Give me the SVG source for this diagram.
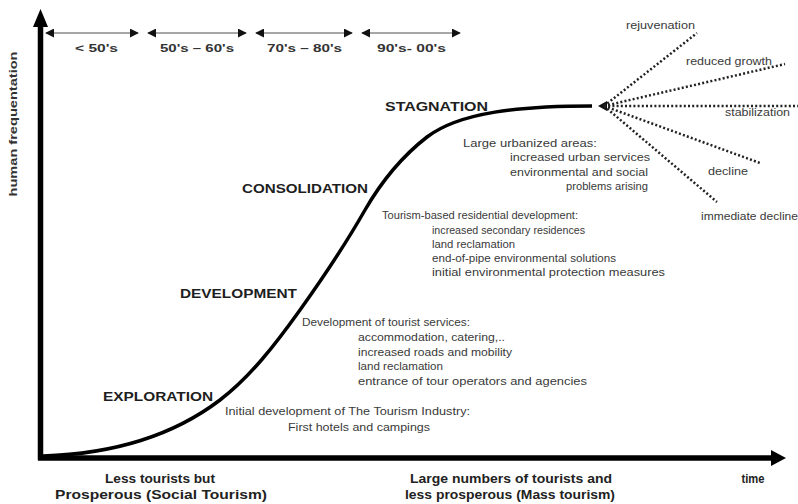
<svg xmlns="http://www.w3.org/2000/svg" width="798" height="504" viewBox="0 0 798 504">
<style>
text{font-family:"Liberation Sans",Arial,sans-serif;}
.phase{font-size:12.5px;font-weight:bold;fill:#1e1e1e;}
.small{font-size:10px;fill:#3a3a3a;}
.per{font-size:11px;font-weight:bold;fill:#333;}
.bot{font-size:12.5px;font-weight:bold;fill:#222;}
.dot{fill:none;stroke:#222;stroke-width:2.5;stroke-dasharray:2 2.2;}
.per-line{stroke:#8a8a8a;stroke-width:1.6;marker-start:url(#ah);marker-end:url(#ah);}
</style>
<defs>
<marker id="ah" viewBox="0 0 10 10" refX="9" refY="5" markerWidth="9" markerHeight="9" markerUnits="userSpaceOnUse" orient="auto-start-reverse">
<path d="M0,0 L10,5 L0,10 z" fill="#111"/>
</marker>
</defs>
<rect width="798" height="504" fill="#fff"/>

<g id="axes">
<line x1="40.5" y1="460" x2="40.5" y2="24" stroke="#000" stroke-width="5.5"/>
<polygon points="40.5,9 33,27 48,27" fill="#000"/>
<line x1="38" y1="458" x2="774" y2="458" stroke="#000" stroke-width="5.5"/>
<polygon points="786,458 771,450 771,466" fill="#000"/>
<text x="17" y="124" transform="rotate(-90 17 124)" text-anchor="middle" font-size="11" font-weight="bold" fill="#333" textLength="145" lengthAdjust="spacingAndGlyphs">human frequentation</text>
</g>

<g id="periods">
<line class="per-line" x1="46" y1="33" x2="138" y2="33"/>
<line class="per-line" x1="148" y1="33" x2="246" y2="33"/>
<line class="per-line" x1="256" y1="33" x2="352" y2="33"/>
<line class="per-line" x1="362" y1="33" x2="460" y2="33"/>
<text class="per" x="75" y="52" textLength="43" lengthAdjust="spacingAndGlyphs">&lt; 50's</text>
<text class="per" x="160" y="52" textLength="74" lengthAdjust="spacingAndGlyphs">50's – 60's</text>
<text class="per" x="267" y="52" textLength="75" lengthAdjust="spacingAndGlyphs">70's – 80's</text>
<text class="per" x="377" y="52" textLength="69" lengthAdjust="spacingAndGlyphs">90's- 00's</text>
</g>

<g id="curve">
<path d="M43,456 C110,454 170,438 220,400 C250,377 275,345 300,310 C325,275 345,245 365,210 C380,184 400,158 427,137 C460,112 520,106 592,106" fill="none" stroke="#000" stroke-width="3.5"/>
</g>

<g id="phases">
<text class="phase" x="385" y="111" textLength="103" lengthAdjust="spacingAndGlyphs">STAGNATION</text>
<text class="phase" x="242" y="193" textLength="126" lengthAdjust="spacingAndGlyphs">CONSOLIDATION</text>
<text class="phase" x="180" y="298" textLength="117" lengthAdjust="spacingAndGlyphs">DEVELOPMENT</text>
<text class="phase" x="103" y="401" textLength="110" lengthAdjust="spacingAndGlyphs">EXPLORATION</text>
</g>

<g id="stagnation-notes">
<text class="small" x="463" y="147" textLength="134" lengthAdjust="spacingAndGlyphs">Large urbanized areas:</text>
<text class="small" x="510" y="161" textLength="140" lengthAdjust="spacingAndGlyphs">increased urban services</text>
<text class="small" x="510" y="176" textLength="138" lengthAdjust="spacingAndGlyphs">environmental and social</text>
<text class="small" x="566" y="190" textLength="82" lengthAdjust="spacingAndGlyphs">problems arising</text>
</g>

<g id="consolidation-notes">
<text class="small" x="382" y="219" textLength="196" lengthAdjust="spacingAndGlyphs">Tourism-based residential development:</text>
<text class="small" x="432" y="234" textLength="153" lengthAdjust="spacingAndGlyphs">increased secondary residences</text>
<text class="small" x="432" y="248" textLength="83" lengthAdjust="spacingAndGlyphs">land reclamation</text>
<text class="small" x="432" y="262" textLength="184" lengthAdjust="spacingAndGlyphs">end-of-pipe environmental solutions</text>
<text class="small" x="432" y="276" textLength="233" lengthAdjust="spacingAndGlyphs">initial environmental protection measures</text>
</g>

<g id="development-notes">
<text class="small" x="302" y="326" textLength="168" lengthAdjust="spacingAndGlyphs">Development of tourist services:</text>
<text class="small" x="358" y="341" textLength="147" lengthAdjust="spacingAndGlyphs">accommodation, catering,..</text>
<text class="small" x="358" y="356" textLength="154" lengthAdjust="spacingAndGlyphs">increased roads and mobility</text>
<text class="small" x="358" y="370" textLength="85" lengthAdjust="spacingAndGlyphs">land reclamation</text>
<text class="small" x="358" y="385" textLength="229" lengthAdjust="spacingAndGlyphs">entrance of tour operators and agencies</text>
</g>

<g id="exploration-notes">
<text class="small" x="225" y="415" textLength="245" lengthAdjust="spacingAndGlyphs">Initial development of The Tourism Industry:</text>
<text class="small" x="288" y="431" textLength="142" lengthAdjust="spacingAndGlyphs">First hotels and campings</text>
</g>

<g id="scenarios">
<polygon points="598,106 607,101 607,111" fill="#111"/>
<line class="dot" x1="604" y1="106" x2="697" y2="33"/>
<line class="dot" x1="604" y1="106" x2="785" y2="64"/>
<line class="dot" x1="604" y1="106" x2="798" y2="106"/>
<line class="dot" x1="604" y1="106" x2="760" y2="163"/>
<line class="dot" x1="604" y1="106" x2="717" y2="202"/>
<text class="small" x="626" y="29" textLength="69" lengthAdjust="spacingAndGlyphs">rejuvenation</text>
<text class="small" x="686" y="65" textLength="86" lengthAdjust="spacingAndGlyphs">reduced growth</text>
<text class="small" x="725" y="116" textLength="65" lengthAdjust="spacingAndGlyphs">stabilization</text>
<text class="small" x="708" y="175" textLength="40" lengthAdjust="spacingAndGlyphs">decline</text>
<text class="small" x="701" y="220" textLength="97" lengthAdjust="spacingAndGlyphs">immediate decline</text>
</g>

<g id="bottom-labels">
<text class="bot" x="160" y="483" text-anchor="middle" textLength="110" lengthAdjust="spacingAndGlyphs">Less tourists but</text>
<text class="bot" x="161" y="499" text-anchor="middle" textLength="212" lengthAdjust="spacingAndGlyphs">Prosperous (Social Tourism)</text>
<text class="bot" x="511" y="483" text-anchor="middle" textLength="202" lengthAdjust="spacingAndGlyphs">Large numbers of tourists and</text>
<text class="bot" x="510" y="499" text-anchor="middle" textLength="210" lengthAdjust="spacingAndGlyphs">less prosperous (Mass tourism)</text>
<text class="bot" x="753" y="483" text-anchor="middle" textLength="23" lengthAdjust="spacingAndGlyphs">time</text>
</g>
</svg>
